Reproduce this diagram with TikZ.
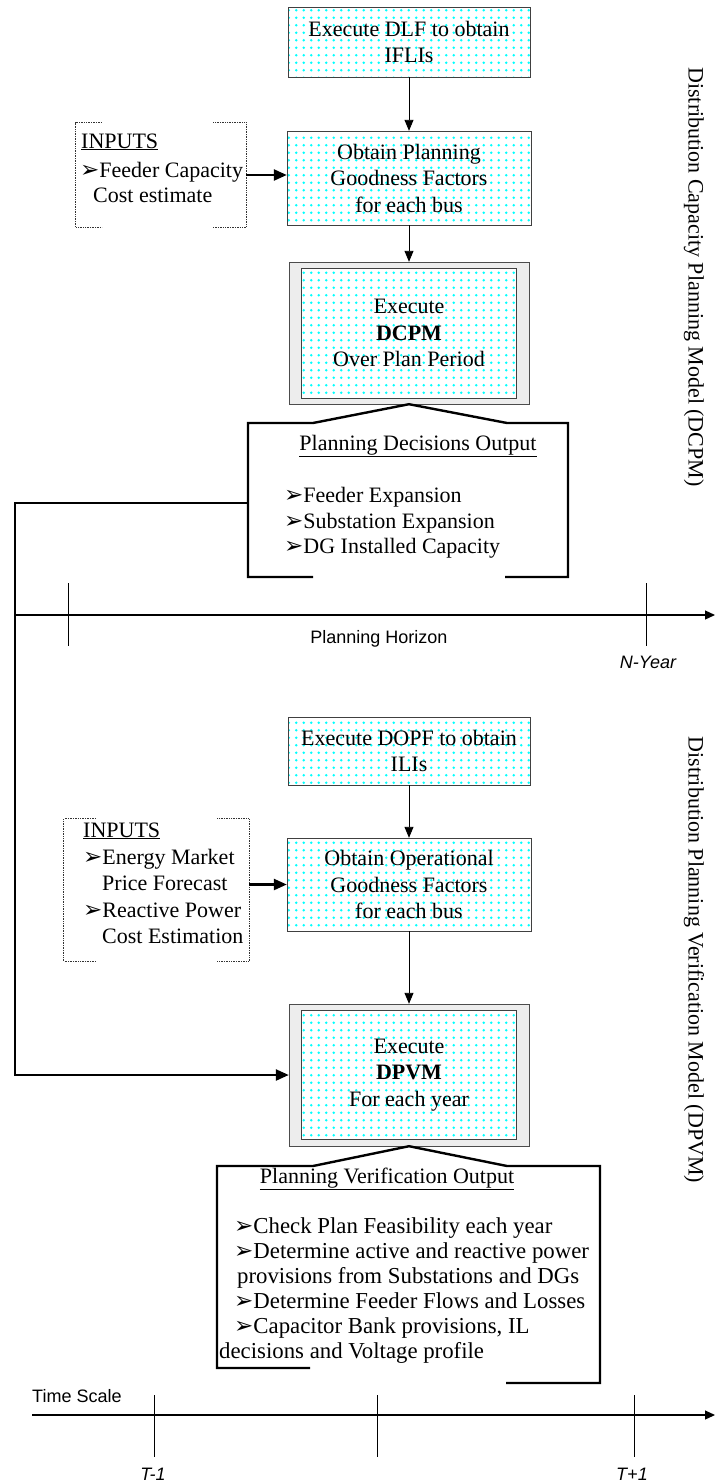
\documentclass[tikz,border=0pt]{standalone}
\usepackage{fontspec}
\setmainfont{Liberation Serif}
\setsansfont{Liberation Sans}
\newfontfamily\dingfont{DejaVu Sans}
\usepackage{tikz}
\usetikzlibrary{calc, patterns, arrows.meta, positioning}

\pgfdeclarepatternformonly{cyandots}{\pgfqpoint{-1pt}{-1pt}}{\pgfqpoint{8.5pt}{8.5pt}}{\pgfqpoint{7.5pt}{7.5pt}}%
  {\pgfpathcircle{\pgfqpoint{3.75pt}{3.75pt}}{1.3pt}\pgfusepath{fill}}

\newcommand{\boxfont}{\fontsize{22}{26.5}\selectfont}
\newcommand{\listfont}{\fontsize{22.8}{25}\selectfont}
\newcommand{\axisfont}{\fontsize{18}{21}\selectfont\sffamily}
\newcommand{\itm}{{\dingfont\fontsize{23}{23}\selectfont\char"27A2}}

\tikzset{
    stepbox/.style = {draw=black!75, rectangle, preaction={fill=white}, pattern=cyandots, pattern color=cyan,
      inner sep=0pt, minimum width=242pt, align=center, font=\boxfont, node distance=0pt},
    framenode/.style = {draw=black!70, fill=black!7, rectangle, inner sep=0pt,
      minimum width=240pt, minimum height=142pt, node distance=0pt},
    textnode/.style = {draw=none, fill=none, rectangle, inner sep=0pt, font=\boxfont, node distance=0pt},
    axistext/.style = {draw=none, fill=none, inner sep=0pt, font=\axisfont},
    connect/.style = {black, line width=0.9pt, -{Triangle[length=11pt,width=9pt]}},
    thickconnect/.style = {black, line width=2.4pt, -{Triangle[length=13pt,width=11pt]}},
    callout/.style = {black, line width=2.4pt},
    bracket/.style = {black!80, densely dotted, line width=0.7pt},
    axis/.style = {black, line width=1.2pt, -{Triangle[length=10pt,width=9pt]}},
    tick/.style = {black, line width=0.9pt}
}

\begin{document}
\begin{tikzpicture}[x=1pt, y=1pt, node distance=0pt]
    \useasboundingbox (0,0) rectangle (715,-1484);

    % capacity planning part
    \node [name=dlf, stepbox, minimum height=70pt] at (409,-42) {Execute DLF to obtain\\IFLIs};
    \node [name=plangf, stepbox, minimum width=244pt, minimum height=94pt, below of=dlf, yshift=-136pt] {Obtain Planning\\Goodness Factors\\for each bus};
    \node [name=dcpm, framenode, below of=plangf, yshift=-155pt] {};
    \node [name=dcpmcore, stepbox, minimum width=215pt, minimum height=130pt] at (dcpm.center) {Execute\\\textbf{DCPM}\\Over Plan Period};
    \draw (dlf) edge[connect] (plangf);
    \draw (plangf) edge[connect] (dcpm);

    \node [name=inputs1, draw=none, minimum width=170pt, minimum height=104pt, inner sep=0pt] at (161,-175) {};
    \draw[bracket] ($(inputs1.north west)+(26,0)$) -- (inputs1.north west) -- (inputs1.south west) -- ++(26,0);
    \draw[bracket] ($(inputs1.north east)+(-33,0)$) -- (inputs1.north east) -- (inputs1.south east) -- ++(-33,0);
    \node [name=in1a, textnode, anchor=base west] at (81,-148) {\underline{INPUTS}};
    \node [name=in1b, textnode, anchor=base west] at (80,-177) {\itm Feeder Capacity};
    \node [name=in1c, textnode, anchor=base west] at (93,-202) {Cost estimate};
    \draw[thickconnect] (inputs1.east) -- (inputs1.east -| plangf.west);

    \draw[callout] (313,-577) -- (248,-577) -- (248,-423) -- (313,-423) -- (dcpm.south) -- (507,-423) -- (568,-423) -- (568,-577) -- (505,-577);
    \node [name=dctitle, textnode, anchor=base] at (418,-450) {\underline{Planning Decisions Output}};
    \node [name=dc1, textnode, anchor=base west] at (284,-502) {\itm Feeder Expansion};
    \node [name=dc2, textnode, anchor=base west] at (284,-528) {\itm Substation Expansion};
    \node [name=dc3, textnode, anchor=base west] at (284,-553) {\itm DG Installed Capacity};

    \node [name=dcpmlabel, textnode, rotate=-90] at (694,-277) {Distribution Capacity Planning Model (DCPM)};

    % planning horizon
    \coordinate (ph0) at (15,-615);
    \coordinate (ph1) at (715,-615);
    \draw[axis] (ph0) -- (ph1);
    \draw[tick] (68,-583) -- (68,-646);
    \draw[tick] (646,-583) -- (646,-646);
    \node [name=phtext, axistext] at (379,-639) {Planning Horizon};
    \node [name=nyear, axistext, font=\axisfont\itshape] at (648,-662) {N-Year};

    % verification part
    \node [name=dopf, stepbox, minimum height=68pt] at (409,-751) {Execute DOPF to obtain\\ILIs};
    \node [name=opgf, stepbox, minimum width=244pt, minimum height=93pt, below of=dopf, yshift=-133.5pt] {Obtain Operational\\Goodness Factors\\for each bus};
    \node [name=dpvm, framenode, below of=opgf, yshift=-190.5pt] {};
    \node [name=dpvmcore, stepbox, minimum width=215pt, minimum height=129pt] at (dpvm.center) {Execute\\\textbf{DPVM}\\For each year};
    \draw (dopf) edge[connect] (opgf);
    \draw (opgf) edge[connect] (dpvm);

    \node [name=inputs2, draw=none, minimum width=185pt, minimum height=142pt, inner sep=0pt] at (156.5,-890) {};
    \draw[bracket] ($(inputs2.north west)+(32,0)$) -- (inputs2.north west) -- (inputs2.south west) -- ++(32,0);
    \draw[bracket] ($(inputs2.north east)+(-32,0)$) -- (inputs2.north east) -- (inputs2.south east) -- ++(-32,0);
    \node [name=in2a, textnode, anchor=base west] at (83,-837) {\underline{INPUTS}};
    \node [name=in2b, textnode, anchor=base west] at (83,-864) {\itm Energy Market};
    \node [name=in2c, textnode, anchor=base west] at (102,-890) {Price Forecast};
    \node [name=in2d, textnode, anchor=base west] at (83,-917) {\itm Reactive Power};
    \node [name=in2e, textnode, anchor=base west] at (102,-943) {Cost Estimation};
    \draw[thickconnect] (inputs2.east |- opgf.west) -- (opgf.west);

    % plan decisions feed the verification model
    \coordinate (tap) at (248,-503);
    \coordinate (rail) at (15,-503);
    \draw[thickconnect] (tap) -- (rail) |- (dpvm.west);

    \draw[callout] (310,-1368) -- (217,-1368) -- (217,-1166) -- (313,-1166) -- (dpvm.south) -- (507,-1166) -- (600,-1166) -- (600,-1383) -- (506,-1383);
    \node [name=pvtitle, textnode, anchor=base] at (387,-1183) {\underline{Planning Verification Output}};
    \node [name=pv1, textnode, font=\listfont, anchor=base west] at (234,-1233) {\itm Check Plan Feasibility each year};
    \node [name=pv2, textnode, font=\listfont, anchor=base west] at (234,-1258) {\itm Determine active and reactive power};
    \node [name=pv3, textnode, font=\listfont, anchor=base west] at (237,-1283) {provisions from Substations and DGs};
    \node [name=pv4, textnode, font=\listfont, anchor=base west] at (234,-1308) {\itm Determine Feeder Flows and Losses};
    \node [name=pv5, textnode, font=\listfont, anchor=base west] at (234,-1333) {\itm Capacitor Bank provisions, IL};
    \node [name=pv6, textnode, font=\listfont, anchor=base west] at (219,-1358) {decisions and Voltage profile};

    \node [name=dpvmlabel, textnode, rotate=-90] at (694,-960) {Distribution Planning Verification Model (DPVM)};

    % time scale
    \coordinate (ts0) at (32,-1415);
    \coordinate (ts1) at (715,-1415);
    \draw[axis] (ts0) -- (ts1);
    \node [name=tstext, axistext, anchor=base west] at (32,-1402) {Time Scale};
    \draw[tick] (154,-1395) -- (154,-1457);
    \draw[tick] (377,-1395) -- (377,-1457);
    \draw[tick] (634,-1395) -- (634,-1457);
    \node [name=tprev, axistext, font=\axisfont\itshape] at (153,-1474) {T-1};
    \node [name=tnext, axistext, font=\axisfont\itshape] at (632,-1474) {T+1};
\end{tikzpicture}
\end{document}
